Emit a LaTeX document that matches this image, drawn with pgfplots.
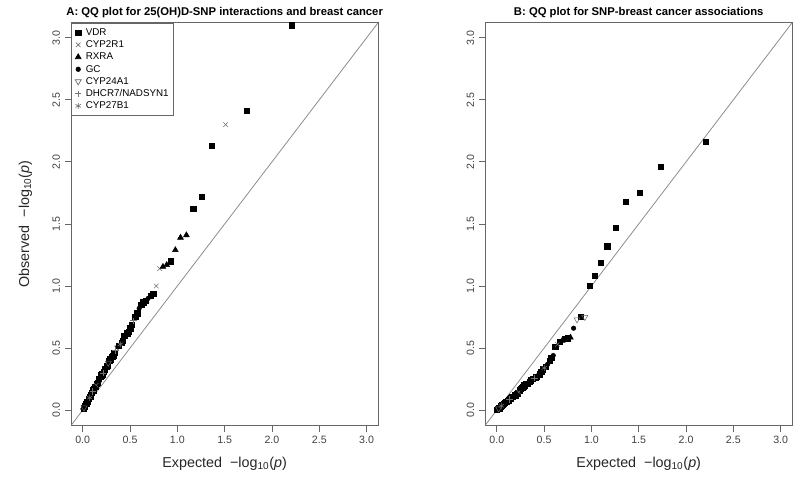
\documentclass[border=0pt]{standalone}
\usepackage{pgfplots}
\pgfplotsset{compat=1.18}
\usepackage{fontspec}
\setmainfont{Liberation Sans}
\begin{document}
\pgfplotsset{
  qq/.style={
    scale only axis, width=231pt, height=303pt,
    xmin=-0.12, xmax=3.12, ymin=-0.12, ymax=3.12,
    xtick={0,0.5,...,3}, ytick={0,0.5,...,3},
    axis line style={black!60, line width=0.6pt},
    tick style={black!60, line width=0.6pt},
    tick align=outside, major tick length=5pt,
    xtick pos=bottom, ytick pos=left,
    /pgf/number format/assume math mode=true,
    /pgf/number format/.cd, fixed, fixed zerofill, precision=1, /pgfplots/.cd,
    ticklabel style={font=\fontsize{8}{9}\selectfont, text=black!75},
    yticklabel style={rotate=90, anchor=south},
    xlabel={Expected \ −log\textsubscript{10}(\textit{p})},
    xlabel style={at={(axis description cs:0.5,0)}, anchor=base, yshift=-32pt, font=\fontsize{10.8}{12}\selectfont, text=black!85},
    title style={at={(axis description cs:0.5,1)}, anchor=base, yshift=-0.5pt, font=\fontsize{8.5}{10}\bfseries\selectfont},
  },
  vdr/.style={only marks, mark=square*, mark size=2pt, black},
  cyp2r1/.style={only marks, mark=x, mark size=2.4pt, black!55},
  rxra/.style={only marks, mark=triangle*, mark size=2.5pt, black},
  gc/.style={only marks, mark=*, mark size=1.7pt, black},
  cyp24a1/.style={only marks, mark=triangle, mark size=2.6pt, black!60, mark options={rotate=180}},
  dhcr/.style={only marks, mark=+, mark size=2.4pt, black!55},
  cyp27/.style={only marks, mark=asterisk, mark size=2.3pt, black!55},
}
\begin{tikzpicture}
\useasboundingbox (0,0) rectangle (594.75pt,359.25pt);
% ---------------- Panel A ----------------
\begin{axis}[qq, at={(51pt,39pt)}, anchor=south west,
  title={A: QQ plot for 25(OH)D-SNP interactions and breast cancer},
  ylabel={Observed \ −log\textsubscript{10}(\textit{p})},
  ylabel style={at={(axis description cs:-0.138,0.5)}, anchor=base, rotate=0, font=\fontsize{10.8}{12}\selectfont, text=black!85},
  legend style={at={(axis description cs:0,1)}, anchor=north west, draw=black!60, line width=0.5pt,
     font=\fontsize{7.4}{8}\selectfont, inner xsep=2.5pt, inner ysep=2.5pt, row sep=0pt,
     nodes={inner sep=0.8pt, text height=6pt, text depth=1.6pt},
     /tikz/every odd column/.append style={column sep=2.5pt}},
  legend cell align=left]
\addplot[black!45, line width=0.6pt, forget plot] coordinates {(-0.12,-0.12) (3.12,3.12)};
\addplot[vdr] coordinates {
(2.2095,3.10) (1.7324,2.41) (1.3644,2.13) (1.2553,1.72) (1.1681,1.62) (0.9308,1.20)
(0.7471,0.935) (0.7182,0.92) (0.6655,0.88) (0.6413,0.87) (0.6185,0.85) (0.5761,0.78)
(0.5563,0.75) (0.5193,0.69) (0.5020,0.66) (0.4852,0.63) (0.4692,0.62) (0.4387,0.60)
(0.4242,0.56) (0.4102,0.54) (0.3835,0.52) (0.3345,0.46) (0.3230,0.44) (0.3119,0.43)
(0.2904,0.41) (0.2801,0.40) (0.2601,0.36) (0.2505,0.35) (0.2318,0.33) (0.2228,0.31)
(0.2052,0.29) (0.1967,0.28) (0.1883,0.27) (0.1721,0.25) (0.1564,0.22) (0.1488,0.21)
(0.1340,0.19) (0.1196,0.17) (0.1126,0.16) (0.0989,0.14) (0.0857,0.12) (0.0792,0.11)
(0.0665,0.09) (0.0542,0.07) (0.0481,0.065) (0.0363,0.05) (0.0248,0.035) (0.0192,0.03)
(0.0081,0.015)};
\addlegendentry{VDR}
\addplot[cyp2r1] coordinates {(1.5106,2.30) (0.8116,1.14) (0.7782,1.00) (0.3583,0.50) (0.1413,0.20)};
\addlegendentry{CYP2R1}
\addplot[rxra] coordinates {(1.0956,1.41) (1.0334,1.39) (0.9791,1.29) (0.8873,1.17) (0.8478,1.155) (0.1642,0.24) (0.0422,0.06)};
\addlegendentry{RXRA}
\addplot[gc] coordinates {(0.6910,0.90) (0.5967,0.82) (0.4537,0.61) (0.3707,0.51) (0.3010,0.42) (0.2410,0.34) (0.1801,0.26) (0.1267,0.18) (0.0923,0.13) (0.0603,0.08) (0.0305,0.04) (0.0027,0.01)};
\addlegendentry{GC}
\addplot[cyp24a1] coordinates {(0.2700,0.38) (0.0136,0.02)};
\addlegendentry{CYP24A1}
\addplot[dhcr] coordinates {(0.5374,0.72) (0.3462,0.48) (0.2139,0.30) (0.1057,0.15)};
\addlegendentry{DHCR7/NADSYN1}
\addplot[cyp27] coordinates {(0.3966,0.53) (0.0728,0.10)};
\addlegendentry{CYP27B1}
\end{axis}
% ---------------- Panel B ----------------
\begin{axis}[qq, at={(363pt,39pt)}, anchor=south west,
  title={B: QQ plot for SNP-breast cancer associations}]
\addplot[black!45, line width=0.6pt] coordinates {(-0.12,-0.12) (3.12,3.12)};
\addplot[vdr] coordinates {
(2.2095,2.16) (1.7324,1.96) (1.5106,1.75) (1.3644,1.68) (1.2553,1.47) (1.1681,1.32)
(1.0956,1.19) (1.0334,1.08) (0.9791,1.00) (0.8873,0.75) (0.7471,0.58) (0.7182,0.575)
(0.6655,0.55) (0.6185,0.51) (0.5761,0.42) (0.5563,0.40) (0.5193,0.35) (0.4852,0.33)
(0.4692,0.31) (0.4537,0.29) (0.4242,0.27) (0.4102,0.265) (0.3835,0.25) (0.3583,0.24)
(0.3462,0.23) (0.3230,0.215) (0.3119,0.21) (0.2904,0.20) (0.2801,0.19) (0.2700,0.18)
(0.2505,0.17) (0.2410,0.16) (0.2228,0.135) (0.2139,0.13) (0.1967,0.12) (0.1883,0.12)
(0.1721,0.11) (0.1642,0.105) (0.1488,0.095) (0.1413,0.09) (0.1267,0.08) (0.1126,0.075)
(0.1057,0.07) (0.0989,0.065) (0.0857,0.058) (0.0728,0.05) (0.0665,0.045) (0.0542,0.04)
(0.0422,0.03) (0.0305,0.02) (0.0248,0.015) (0.0136,0.01) (0.0027,0.002)};
\addplot[cyp2r1] coordinates {(0.6413,0.53) (0.2318,0.145)};
\addplot[rxra] coordinates {(0.7782,0.585) (0.6910,0.56) (0.3345,0.22) (0.1801,0.115) (0.0792,0.055)};
\addplot[gc] coordinates {(0.8116,0.66) (0.5967,0.44) (0.5374,0.37) (0.4387,0.28) (0.3707,0.245) (0.3010,0.21) (0.2601,0.175) (0.2052,0.125) (0.1564,0.10) (0.1196,0.078) (0.0923,0.06) (0.0603,0.04) (0.0363,0.025) (0.0081,0.005)};
\addplot[cyp24a1] coordinates {(0.9308,0.75) (0.8478,0.73) (0.0192,0.012)};
\addplot[dhcr] coordinates {(0.3966,0.26) (0.1340,0.085)};
\addplot[cyp27] coordinates {(0.5020,0.34) (0.0481,0.035)};
\end{axis}
\end{tikzpicture}
\end{document}
